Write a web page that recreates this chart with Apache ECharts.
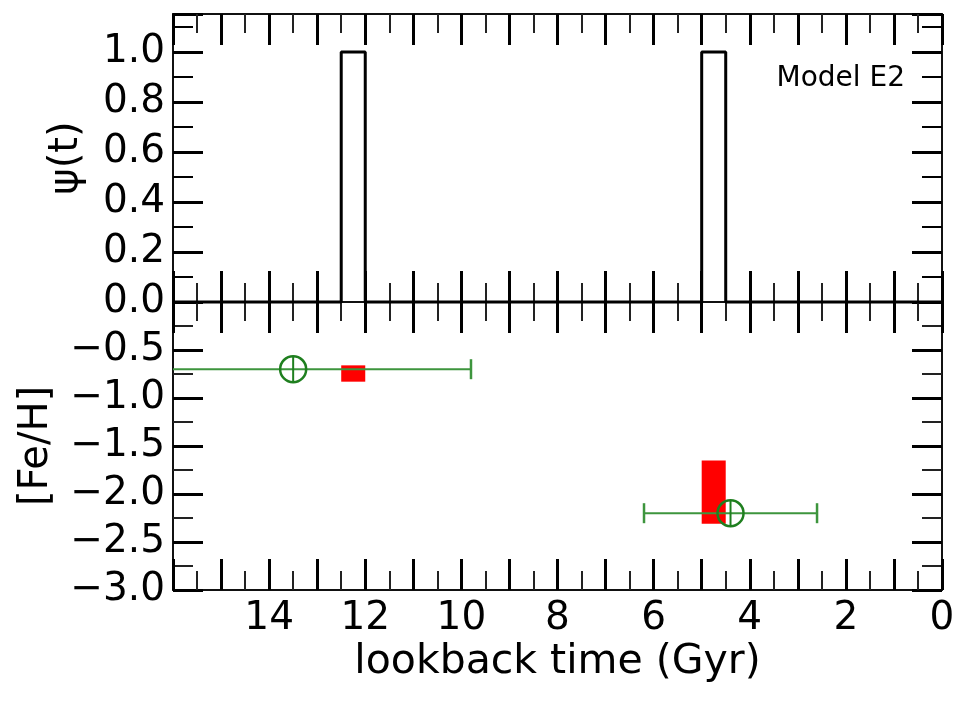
<!DOCTYPE html>
<html>
<head>
<meta charset="utf-8">
<script src="https://cdn.jsdelivr.net/npm/echarts@6/dist/echarts.min.js"></script>
<style>html,body{margin:0;padding:0;background:#fff}#c{width:969px;height:703px}</style>
</head>
<body>
<div id="c"></div>
<script>
// ---- data ----
// star formation bursts psi(t): start/end lookback time (Gyr) and height
const burstStart = [12.5, 5.0];
const burstEnd = [12.0, 4.5];
const burstHeight = [1.0, 1.0];
// model [Fe/H] ranges (red boxes)
const modelT0 = [12.5, 5.0];
const modelT1 = [12.0, 4.5];
const modelFeTop = [-0.66, -1.65];
const modelFeBot = [-0.83, -2.31];
// observed populations (green points with age error bars)
const obsAge = [13.5, 4.4];
const obsAgeErr = [3.7, 1.8];
const obsFeH = [-0.70, -2.20];
// tick labels
const xTickLabels = ['0', '2', '4', '6', '8', '10', '12', '14'];
const psiTickLabels = ['0.0', '0.2', '0.4', '0.6', '0.8', '1.0'];
const fehTickLabels = ['−3.0', '−2.5', '−2.0', '−1.5', '−1.0', '−0.5'];

// ---- build ----
const psiLine = [[16, 0]];
for (let i = 0; i < burstStart.length; i++) {
  psiLine.push([burstStart[i], 0], [burstStart[i], burstHeight[i]], [burstEnd[i], burstHeight[i]], [burstEnd[i], 0]);
}
psiLine.push([0, 0]);
const modelData = modelT0.map((t, i) => [t, modelT1[i], modelFeTop[i], modelFeBot[i]]);
const obsData = obsAge.map((a, i) => [a, obsAgeErr[i], obsFeH[i]]);

const FONT = 'DejaVu Sans';
const LINE = { color: '#111', width: 2 };
const GRIDL = 173, GRIDW = 769;

function xAx(grid, pos, labels, name) {
  const o = {
    gridIndex: grid, type: 'value', min: 0, max: 16, interval: 1, inverse: true, position: pos,
    axisLine: { show: true, onZero: false, lineStyle: LINE },
    axisTick: { show: true, inside: true, length: 31, lineStyle: { color: '#000', width: 3 } },
    minorTick: { show: true, splitNumber: 2, length: 19, lineStyle: { color: '#222', width: 2 } },
    splitLine: { show: false },
    axisLabel: {
      show: labels, fontSize: 39, color: '#000', margin: 9, fontFamily: FONT,
      formatter: v => { const s = String(Math.round(v)); return (Math.abs(v - Math.round(v)) < 1e-6 && xTickLabels.includes(s)) ? s : ''; }
    }
  };
  if (name) {
    o.name = name; o.nameLocation = 'middle'; o.nameGap = 52;
    o.nameTextStyle = { fontSize: 41, color: '#000', fontFamily: FONT };
  }
  return o;
}
function yAx(grid, pos, min, max, interval, len, width, minor, labels, fmtArr, name, nameGap, showLine) {
  const o = {
    gridIndex: grid, type: 'value', min: min, max: max, interval: interval, position: pos,
    axisLine: { show: showLine, onZero: false, lineStyle: LINE },
    axisTick: { show: true, inside: true, length: len, lineStyle: { color: '#000', width: width } },
    minorTick: { show: minor, splitNumber: 2, length: 20, lineStyle: { color: '#222', width: 2 } },
    splitLine: { show: false },
    axisLabel: {
      show: labels, fontSize: 39, color: '#000', margin: 8, fontFamily: FONT,
      formatter: v => {
        const s = (v < 0 ? '−' : '') + Math.abs(v).toFixed(1);
        return fmtArr && fmtArr.includes(s) && Math.abs(v * 10 - Math.round(v * 10)) < 1e-6 ? s : '';
      }
    }
  };
  if (name) {
    o.name = name; o.nameLocation = 'middle'; o.nameGap = nameGap;
    o.nameTextStyle = { fontSize: 40, color: '#000', fontFamily: FONT };
  }
  return o;
}

const PSI_MAX = 1.152;
const option = {
  animation: false,
  backgroundColor: '#fff',
  textStyle: { fontFamily: FONT },
  grid: [
    { left: GRIDL, top: 14, width: GRIDW, height: 288 },
    { left: GRIDL, top: 302, width: GRIDW, height: 288 }
  ],
  xAxis: [
    xAx(0, 'bottom', false),
    xAx(0, 'top', false),
    xAx(1, 'bottom', true, 'lookback time (Gyr)'),
    xAx(1, 'top', false)
  ],
  yAxis: [
    yAx(0, 'left', 0, PSI_MAX, 0.2, 30, 3, false, true, psiTickLabels, 'ψ(t)', 86, true),
    yAx(0, 'left', 0, PSI_MAX, 0.1, 20, 2, false, false, null, null, 0, false),
    yAx(0, 'right', 0, PSI_MAX, 0.2, 30, 3, false, false, null, null, 0, true),
    yAx(0, 'right', 0, PSI_MAX, 0.1, 20, 2, false, false, null, null, 0, false),
    yAx(1, 'left', -3, 0, 0.5, 30, 3, true, true, fehTickLabels, '[Fe/H]', 116, true),
    yAx(1, 'right', -3, 0, 0.5, 30, 3, true, false, null, null, 0, true)
  ],
  graphic: [{
    type: 'text', right: 64, top: 65, z: 100,
    style: { text: 'Model E2', font: '28px "DejaVu Sans"', fill: '#000' }
  }],
  series: [
    {
      type: 'line', xAxisIndex: 0, yAxisIndex: 0, data: psiLine, symbol: 'none', clip: false,
      lineStyle: { color: '#000', width: 3 }, z: 3
    },
    {
      type: 'custom', xAxisIndex: 2, yAxisIndex: 4, data: modelData, clip: true, z: 4,
      encode: { x: [0, 1], y: [2, 3] },
      renderItem: (params, api) => {
        const p0 = api.coord([api.value(0), api.value(2)]);
        const p1 = api.coord([api.value(1), api.value(3)]);
        return {
          type: 'rect',
          shape: { x: Math.min(p0[0], p1[0]), y: Math.min(p0[1], p1[1]), width: Math.abs(p1[0] - p0[0]), height: Math.abs(p1[1] - p0[1]) },
          style: { fill: '#ff0000' }
        };
      }
    },
    {
      type: 'custom', xAxisIndex: 2, yAxisIndex: 4, data: obsData, clip: true, z: 5,
      encode: { x: 0, y: 2 },
      renderItem: (params, api) => {
        const a = api.value(0), e = api.value(1), f = api.value(2);
        const c = api.coord([a, f]);
        const l = api.coord([a + e, f]);
        const r = api.coord([a - e, f]);
        const lc = '#3d953d', cc = '#1f7f1f', R = 13, cap = 10;
        return {
          type: 'group',
          children: [
            { type: 'line', shape: { x1: l[0], y1: c[1], x2: r[0], y2: c[1] }, style: { stroke: lc, lineWidth: 2 } },
            { type: 'line', shape: { x1: l[0], y1: c[1] - cap, x2: l[0], y2: c[1] + cap }, style: { stroke: lc, lineWidth: 2.5 } },
            { type: 'line', shape: { x1: r[0], y1: c[1] - cap, x2: r[0], y2: c[1] + cap }, style: { stroke: lc, lineWidth: 2.5 } },
            { type: 'circle', shape: { cx: c[0], cy: c[1], r: R }, style: { fill: 'none', stroke: cc, lineWidth: 2.5 } },
            { type: 'line', shape: { x1: c[0], y1: c[1] - R, x2: c[0], y2: c[1] + R }, style: { stroke: cc, lineWidth: 2 } }
          ]
        };
      }
    }
  ]
};
const chart = echarts.init(document.getElementById('c'), null, { renderer: 'canvas' });
chart.setOption(option);
</script>
</body>
</html>
